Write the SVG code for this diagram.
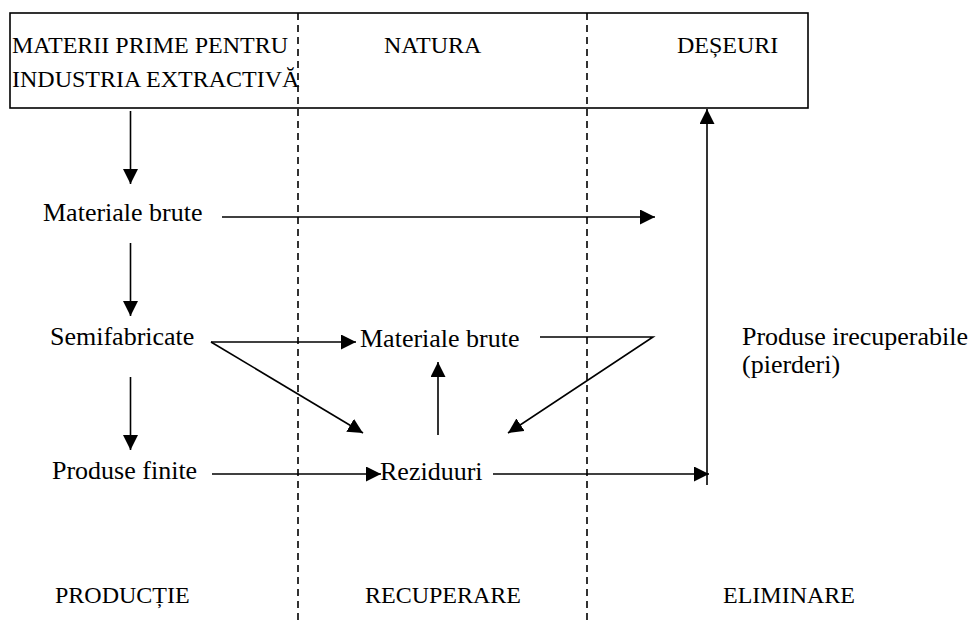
<svg xmlns="http://www.w3.org/2000/svg" width="972" height="623" viewBox="0 0 972 623">
  <style>
    text { font-family: "Liberation Serif", "Times New Roman", serif; fill: #000; }
    .up { font-size: 24px; }
    .lo { font-size: 26px; }
    .ln { stroke: #000; stroke-width: 1.6; fill: none; }
    .arr { marker-end: url(#head); }
    .dash { stroke: #000; stroke-width: 1.6; stroke-dasharray: 7 5; fill: none; }
  </style>
  <defs>
    <marker id="head" markerUnits="userSpaceOnUse" markerWidth="15" markerHeight="15" refX="15" refY="7.5" orient="auto">
      <path d="M0,0 L15,7.5 L0,15 Z" fill="#000"/>
    </marker>
  </defs>
  <rect width="972" height="623" fill="#fff"/>

  <!-- header box -->
  <g id="header" font-family="Liberation Serif, serif">
    <rect x="10" y="13" width="798" height="95" class="ln"/>
    <text class="up" x="12" y="53">MATERII PRIME PENTRU</text>
    <text class="up" x="12" y="87">INDUSTRIA EXTRACTIVĂ</text>
    <text class="up" x="384" y="53">NATURA</text>
    <text class="up" x="677" y="53">DEȘEURI</text>
  </g>

  <!-- column separators -->
  <g id="separators">
    <line x1="298" y1="13" x2="298" y2="623" class="dash"/>
    <line x1="587" y1="13" x2="587" y2="623" class="dash"/>
  </g>

  <g id="materiale-brute-1"><text class="lo" x="43" y="221">Materiale brute</text></g>
  <g id="semifabricate"><text class="lo" x="50" y="345">Semifabricate</text></g>
  <g id="produse-finite"><text class="lo" x="52" y="479">Produse finite</text></g>
  <g id="materiale-brute-2"><text class="lo" x="360" y="347">Materiale brute</text></g>
  <g id="reziduuri"><text class="lo" x="380" y="480">Reziduuri</text></g>
  <g id="produse-irecuperabile">
    <text class="lo" x="742" y="345">Produse irecuperabile</text>
    <text class="lo" x="742" y="373">(pierderi)</text>
  </g>

  <!-- column captions -->
  <g id="captions">
    <text class="up" x="55" y="603">PRODUCȚIE</text>
    <text class="up" x="365" y="603">RECUPERARE</text>
    <text class="up" x="723" y="603">ELIMINARE</text>
  </g>

  <g id="connectors">
    <line x1="130.5" y1="111" x2="130.5" y2="184" class="ln arr"/>
    <line x1="222" y1="217" x2="655" y2="217" class="ln arr"/>
    <line x1="130.5" y1="243" x2="130.5" y2="316" class="ln arr"/>
    <line x1="211" y1="342" x2="356" y2="342" class="ln arr"/>
    <line x1="211" y1="342" x2="363" y2="433" class="ln arr"/>
    <line x1="130.5" y1="377" x2="130.5" y2="450" class="ln arr"/>
    <line x1="212" y1="474" x2="381" y2="474" class="ln arr"/>
    <line x1="438" y1="435" x2="438" y2="362" class="ln arr"/>
    <polyline points="540,337 653,337 508,433" class="ln arr"/>
    <line x1="493" y1="474" x2="709" y2="474" class="ln arr"/>
    <line x1="707" y1="485" x2="707" y2="109" class="ln arr"/>
  </g>
</svg>
